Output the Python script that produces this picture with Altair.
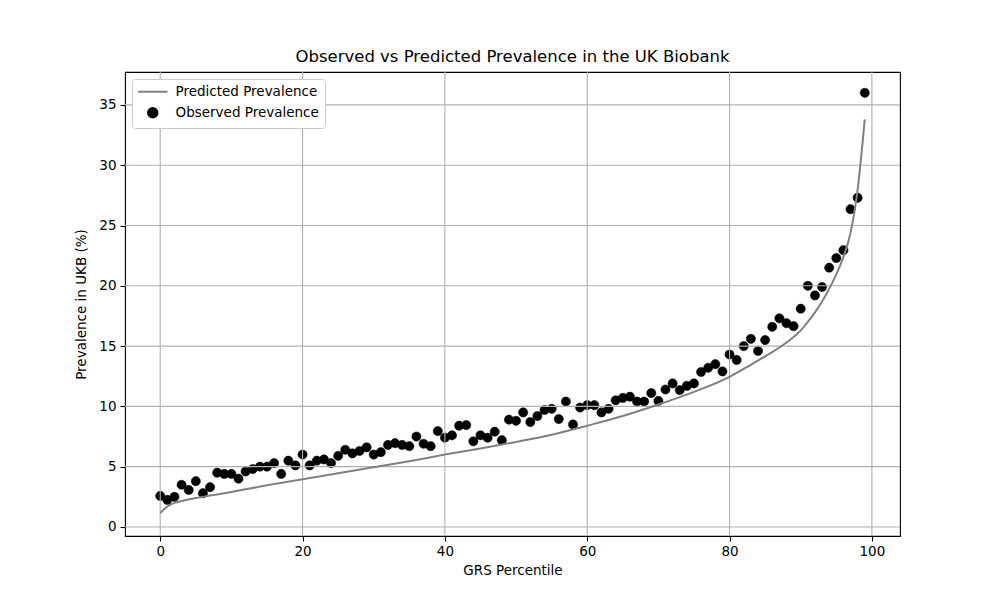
import altair as alt
import pandas as pd

# Observed prevalence (%) per GRS percentile 0..99
obs_pct = list(range(100))
obs_val = [2.57, 2.24, 2.5, 3.5, 3.07, 3.8, 2.8, 3.3, 4.5, 4.4,
           4.4, 4.0, 4.6, 4.8, 5.0, 5.0, 5.3, 4.4, 5.5, 5.1,
           6.0, 5.1, 5.5, 5.6, 5.3, 5.9, 6.4, 6.1, 6.3, 6.6,
           6.0, 6.2, 6.8, 6.95, 6.8, 6.7, 7.5, 6.9, 6.7, 7.95,
           7.4, 7.6, 8.4, 8.45, 7.1, 7.6, 7.4, 7.9, 7.2, 8.9,
           8.8, 9.5, 8.7, 9.2, 9.7, 9.8, 8.95, 10.4, 8.5, 9.9,
           10.1, 10.1, 9.5, 9.8, 10.5, 10.7, 10.8, 10.4, 10.4, 11.1,
           10.45, 11.4, 11.9, 11.35, 11.7, 11.9, 12.85, 13.2, 13.5, 12.9,
           14.3, 13.85, 15.0, 15.6, 14.6, 15.5, 16.6, 17.3, 16.9, 16.65,
           18.1, 20.0, 19.2, 19.9, 21.5, 22.3, 22.95, 26.35, 27.3, 36.0]

# Predicted prevalence curve
pred_pct = [0, 1, 2, 3, 5, 7, 10, 15, 20, 25, 30, 35, 40, 45, 50, 55, 60, 65,
            70, 75, 80, 83, 85, 86, 87, 88, 89, 90, 91, 92, 93, 94, 95, 96, 97, 98, 99]
pred_val = [1.15, 1.7, 2.0, 2.15, 2.4, 2.6, 2.9, 3.45, 3.95, 4.45, 4.95, 5.45,
            6.0, 6.5, 7.05, 7.65, 8.4, 9.2, 10.15, 11.2, 12.45, 13.45, 14.15,
            14.5, 14.88, 15.3, 15.76, 16.3, 17.0, 17.8, 18.7, 19.75, 20.95,
            22.4, 24.4, 28.0, 33.8]

x_ticks = [0, 20, 40, 60, 80, 100]
y_ticks = [0, 5, 10, 15, 20, 25, 30, 35]

PRED = "Predicted Prevalence"
OBS = "Observed Prevalence"
series_names = [PRED, OBS]

obs_df = pd.DataFrame({"pct": obs_pct, "val": obs_val, "series": OBS})
pred_df = pd.DataFrame({"pct": pred_pct, "val": pred_val})
xt_df = pd.DataFrame({"t": x_ticks})
yt_df = pd.DataFrame({"t": y_ticks})

FONT = "DejaVu Sans"
xscale = alt.Scale(domain=[-4.95, 103.95], nice=False, zero=False)
yscale = alt.Scale(domain=[-0.75, 37.73], nice=False, zero=False)

xaxis = alt.Axis(values=x_ticks, title="GRS Percentile", grid=False, domain=False,
                 tickColor="black", tickSize=5, tickWidth=1.1, labelPadding=3,
                 titlePadding=6, labelFontSize=13.5, titleFontSize=13.5,
                 labelFont=FONT, titleFont=FONT, labelColor="black",
                 titleColor="black", titleFontWeight="normal", labelFlush=False)
yaxis = alt.Axis(values=y_ticks, title="Prevalence in UKB (%)", grid=False, domain=False,
                 tickColor="black", tickSize=5, tickWidth=1.1, labelPadding=4,
                 titlePadding=10, labelFontSize=13.5, titleFontSize=13.5,
                 labelFont=FONT, titleFont=FONT, labelColor="black",
                 titleColor="black", titleFontWeight="normal", labelFlush=False)

legend = alt.Legend(title=None, orient="none", legendX=7, legendY=7,
                    fillColor="white", strokeColor="#cccccc", cornerRadius=3,
                    padding=6, symbolOffset=8, labelOffset=16, rowPadding=5,
                    labelFont=FONT, labelFontSize=13.5, labelColor="black",
                    symbolSize=90, symbolStrokeWidth=2)

points = alt.Chart(obs_df).mark_point(filled=True, size=85, opacity=1, strokeWidth=0.5).encode(
    x=alt.X("pct:Q", scale=xscale, axis=xaxis),
    y=alt.Y("val:Q", scale=yscale, axis=yaxis),
    color=alt.Color("series:N", scale=alt.Scale(domain=series_names, range=["gray", "black"]), legend=legend),
    stroke=alt.Stroke("series:N", scale=alt.Scale(domain=series_names, range=["gray", "black"]), legend=legend),
    shape=alt.Shape("series:N", scale=alt.Scale(domain=series_names, range=["M-3.1,0L3.1,0", "circle"]), legend=legend),
)

xgrid = alt.Chart(xt_df).mark_rule(color="#b0b0b0", strokeWidth=1.1).encode(
    x=alt.X("t:Q", scale=xscale)
)
ygrid = alt.Chart(yt_df).mark_rule(color="#b0b0b0", strokeWidth=1.1).encode(
    y=alt.Y("t:Q", scale=yscale)
)

line = alt.Chart(pred_df).mark_line(color="gray", strokeWidth=2, interpolate="monotone").encode(
    x=alt.X("pct:Q", scale=xscale),
    y=alt.Y("val:Q", scale=yscale),
)

chart = alt.layer(points, xgrid, ygrid, line).properties(
    width=775, height=464,
    autosize=alt.AutoSizeParams(type="none"),
    padding={"left": 117, "top": 64, "right": 92, "bottom": 56},
    title=alt.TitleParams("Observed vs Predicted Prevalence in the UK Biobank",
                          fontSize=16.5, fontWeight="normal", font=FONT,
                          color="black", anchor="middle", offset=6),
).configure(
    background="white",
    view=alt.ViewConfig(stroke="black", strokeWidth=1.1),
)

chart.save("out.html", embed_options={"renderer": "svg", "actions": False})
